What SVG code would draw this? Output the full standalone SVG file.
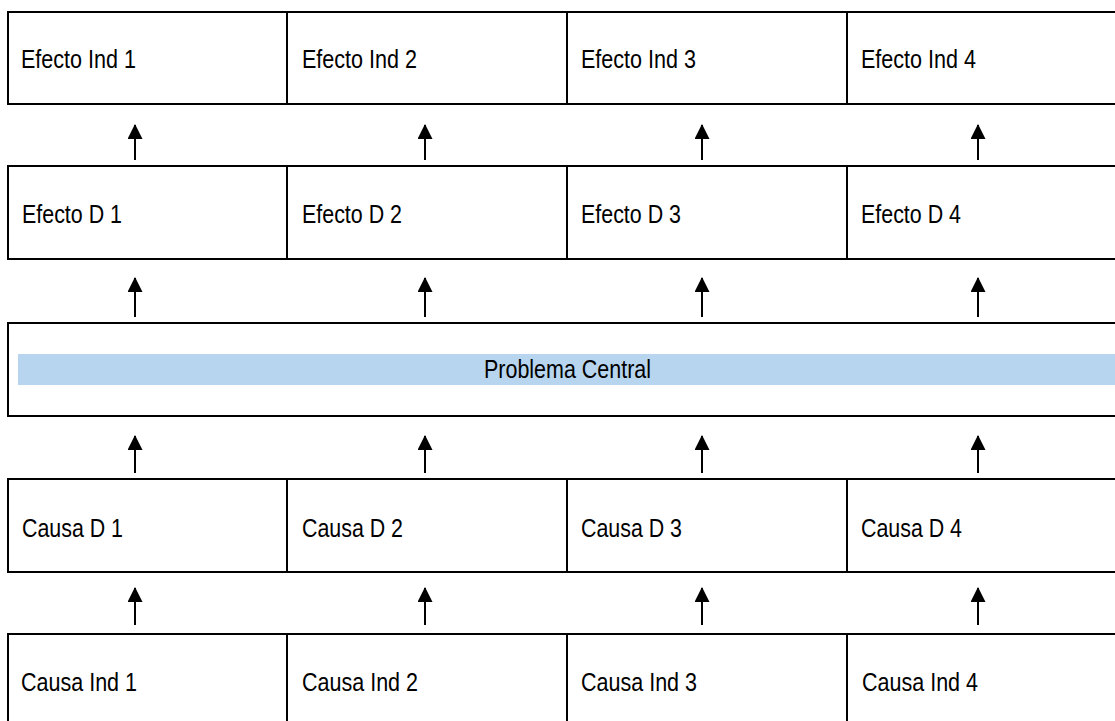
<svg xmlns="http://www.w3.org/2000/svg" width="1115" height="721" viewBox="0 0 1115 721">
<defs>
<style>
.box{fill:#fff;stroke:#000;stroke-width:2}
.t{font-family:"Liberation Sans",Arial,sans-serif;font-size:25px;fill:#000}
.shaft{stroke:#000;stroke-width:2;fill:none}
</style>
<marker id="ah" markerWidth="15" markerHeight="15" viewBox="0 0 15 15" refX="14" refY="7.5" orient="auto" markerUnits="userSpaceOnUse">
<path d="M0,0 L15,7.5 L0,15 Z" fill="#000"/>
</marker>
</defs>
<rect width="1115" height="721" fill="#fff"/>
<g id="row1">
<g id="ei1"><rect class="box" x="8" y="12" width="279" height="92"/><text class="t" x="21" y="68" textLength="115" lengthAdjust="spacingAndGlyphs">Efecto Ind 1</text></g>
<g id="ei2"><rect class="box" x="287" y="12" width="280" height="92"/><text class="t" x="302" y="68" textLength="115" lengthAdjust="spacingAndGlyphs">Efecto Ind 2</text></g>
<g id="ei3"><rect class="box" x="567" y="12" width="280" height="92"/><text class="t" x="581" y="68" textLength="115" lengthAdjust="spacingAndGlyphs">Efecto Ind 3</text></g>
<g id="ei4"><rect class="box" x="847" y="12" width="290" height="92"/><text class="t" x="861" y="68" textLength="115" lengthAdjust="spacingAndGlyphs">Efecto Ind 4</text></g>
</g>
<g id="row2">
<g id="ed1"><rect class="box" x="8" y="166" width="279" height="93"/><text class="t" x="22" y="223" textLength="100" lengthAdjust="spacingAndGlyphs">Efecto D 1</text></g>
<g id="ed2"><rect class="box" x="287" y="166" width="280" height="93"/><text class="t" x="302" y="223" textLength="100" lengthAdjust="spacingAndGlyphs">Efecto D 2</text></g>
<g id="ed3"><rect class="box" x="567" y="166" width="280" height="93"/><text class="t" x="581" y="223" textLength="100" lengthAdjust="spacingAndGlyphs">Efecto D 3</text></g>
<g id="ed4"><rect class="box" x="847" y="166" width="290" height="93"/><text class="t" x="861" y="223" textLength="100" lengthAdjust="spacingAndGlyphs">Efecto D 4</text></g>
</g>
<g id="central">
<rect class="box" x="8" y="323" width="1130" height="93"/>
<rect x="18" y="354" width="1100" height="31" fill="#B7D5EE"/>
<text class="t" x="484" y="378" textLength="167" lengthAdjust="spacingAndGlyphs">Problema Central</text>
</g>
<g id="row4">
<g id="cd1"><rect class="box" x="8" y="479" width="279" height="93"/><text class="t" x="22" y="537" textLength="101" lengthAdjust="spacingAndGlyphs">Causa D 1</text></g>
<g id="cd2"><rect class="box" x="287" y="479" width="280" height="93"/><text class="t" x="302" y="537" textLength="101" lengthAdjust="spacingAndGlyphs">Causa D 2</text></g>
<g id="cd3"><rect class="box" x="567" y="479" width="280" height="93"/><text class="t" x="581" y="537" textLength="101" lengthAdjust="spacingAndGlyphs">Causa D 3</text></g>
<g id="cd4"><rect class="box" x="847" y="479" width="290" height="93"/><text class="t" x="861" y="537" textLength="101" lengthAdjust="spacingAndGlyphs">Causa D 4</text></g>
</g>
<g id="row5">
<g id="ci1"><rect class="box" x="8" y="634" width="279" height="100"/><text class="t" x="21" y="691" textLength="116" lengthAdjust="spacingAndGlyphs">Causa Ind 1</text></g>
<g id="ci2"><rect class="box" x="287" y="634" width="280" height="100"/><text class="t" x="302" y="691" textLength="116" lengthAdjust="spacingAndGlyphs">Causa Ind 2</text></g>
<g id="ci3"><rect class="box" x="567" y="634" width="280" height="100"/><text class="t" x="581" y="691" textLength="116" lengthAdjust="spacingAndGlyphs">Causa Ind 3</text></g>
<g id="ci4"><rect class="box" x="847" y="634" width="290" height="100"/><text class="t" x="862" y="691" textLength="116" lengthAdjust="spacingAndGlyphs">Causa Ind 4</text></g>
</g>
<g id="connectors">
<line class="shaft" x1="135" y1="160" x2="135" y2="125" marker-end="url(#ah)"/>
<line class="shaft" x1="425" y1="160" x2="425" y2="125" marker-end="url(#ah)"/>
<line class="shaft" x1="702" y1="160" x2="702" y2="125" marker-end="url(#ah)"/>
<line class="shaft" x1="978" y1="160" x2="978" y2="125" marker-end="url(#ah)"/>
<line class="shaft" x1="135" y1="317" x2="135" y2="278" marker-end="url(#ah)"/>
<line class="shaft" x1="425" y1="317" x2="425" y2="278" marker-end="url(#ah)"/>
<line class="shaft" x1="702" y1="317" x2="702" y2="278" marker-end="url(#ah)"/>
<line class="shaft" x1="978" y1="317" x2="978" y2="278" marker-end="url(#ah)"/>
<line class="shaft" x1="135" y1="473" x2="135" y2="436" marker-end="url(#ah)"/>
<line class="shaft" x1="425" y1="473" x2="425" y2="436" marker-end="url(#ah)"/>
<line class="shaft" x1="702" y1="473" x2="702" y2="436" marker-end="url(#ah)"/>
<line class="shaft" x1="978" y1="473" x2="978" y2="436" marker-end="url(#ah)"/>
<line class="shaft" x1="135" y1="625" x2="135" y2="588" marker-end="url(#ah)"/>
<line class="shaft" x1="425" y1="625" x2="425" y2="588" marker-end="url(#ah)"/>
<line class="shaft" x1="702" y1="625" x2="702" y2="588" marker-end="url(#ah)"/>
<line class="shaft" x1="978" y1="625" x2="978" y2="588" marker-end="url(#ah)"/>
</g>
</svg>
